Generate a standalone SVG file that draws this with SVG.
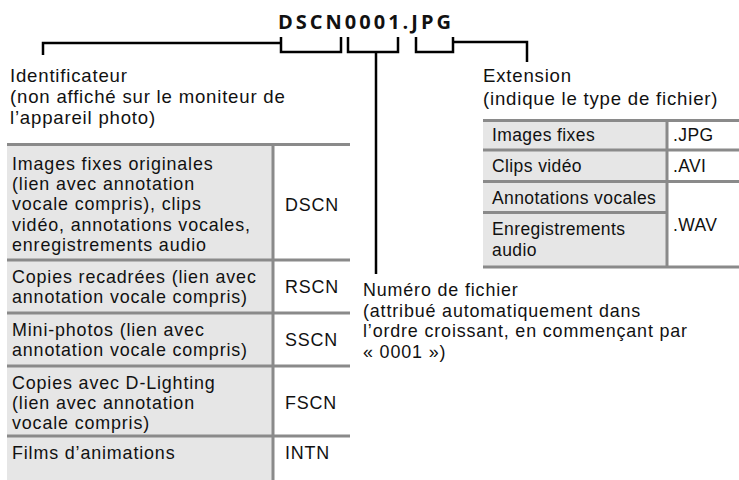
<svg xmlns="http://www.w3.org/2000/svg" width="739" height="480" viewBox="0 0 739 480">
<style>
text{font-family:"Liberation Sans",Arial,sans-serif;font-size:17.9px;letter-spacing:0.85px;fill:#111}
.title{font-family:"Open Sans","Noto Sans",sans-serif;font-weight:bold;font-size:20px;letter-spacing:3px}
.sm{font-size:17.5px;letter-spacing:0.4px}
.lb{font-size:18.6px;letter-spacing:0.8px}
.cell{fill:#e6e6e6}
.grid{stroke:#8a8a8a;stroke-width:3;fill:none}
.conn{stroke:#000;stroke-width:2.5;fill:none}
</style>
<rect width="739" height="480" fill="#fff"/>
<g id="title"><text class="title" x="278" y="29">DSCN0001.JPG</text></g>
<g id="connectors">
<path class="conn" d="M43 55V43H281"/>
<path class="conn" d="M281 37V52H341V37"/>
<path class="conn" d="M348 37V52H398V37M376 52V274"/>
<path class="conn" d="M416 37V52H453V37M453 42H527V62"/>
</g>
<g id="identificateur">
<text class="lb" x="10" y="82">Identificateur<tspan x="10" dy="21">(non affiché sur le moniteur de</tspan><tspan x="10" dy="21">l’appareil photo)</tspan></text>
</g>
<g id="table-identificateur">
<rect class="cell" x="7" y="143" width="266" height="337"/>
<path class="grid" d="M7 144.5H350M7 260H350M7 313H350M7 366H350M7 436H350M273 143V480"/>
<text x="12" y="170">Images fixes originales<tspan x="12" dy="20.2">(lien avec annotation</tspan><tspan x="12" dy="20.2">vocale compris), clips</tspan><tspan x="12" dy="20.2">vidéo, annotations vocales,</tspan><tspan x="12" dy="20.2">enregistrements audio</tspan></text>
<text x="285" y="211">DSCN</text>
<text x="12" y="283">Copies recadrées (lien avec<tspan x="12" dy="20.2">annotation vocale compris)</tspan></text>
<text x="285" y="293">RSCN</text>
<text x="12" y="336">Mini-photos (lien avec<tspan x="12" dy="20.2">annotation vocale compris)</tspan></text>
<text x="285" y="346">SSCN</text>
<text x="12" y="389">Copies avec D-Lighting<tspan x="12" dy="20.2">(lien avec annotation</tspan><tspan x="12" dy="20.2">vocale compris)</tspan></text>
<text x="285" y="409">FSCN</text>
<text x="12" y="459">Films d’animations</text>
<text x="285" y="459">INTN</text>
</g>
<g id="extension">
<text class="lb" x="483" y="82">Extension<tspan x="483" dy="23">(indique le type de fichier)</tspan></text>
</g>
<g id="table-extension">
<rect class="cell" x="483" y="119" width="184" height="149"/>
<path class="grid" d="M483 120.5H739M483 150H739M483 181.5H739M483 212.5H667M483 267H739M667 119V268"/>
<text class="sm" x="492" y="140.5">Images fixes</text>
<text class="sm" x="673" y="140.5">.JPG</text>
<text class="sm" x="492" y="171.5">Clips vidéo</text>
<text class="sm" x="673" y="171.5">.AVI</text>
<text class="sm" x="492" y="203.5">Annotations vocales</text>
<text class="sm" x="492" y="234.5">Enregistrements<tspan x="492" dy="21">audio</tspan></text>
<text class="sm" x="673" y="230.5">.WAV</text>
</g>
<g id="numero">
<text x="363" y="296">Numéro de fichier<tspan x="363" dy="20.5">(attribué automatiquement dans</tspan><tspan x="363" dy="20.5">l’ordre croissant, en commençant par</tspan><tspan x="363" dy="20.5">« 0001 »)</tspan></text>
</g>
</svg>
